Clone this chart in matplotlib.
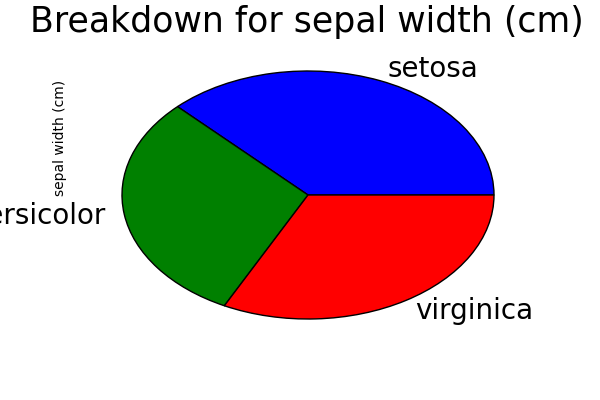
# pie of summed sepal width per iris species
import matplotlib
matplotlib.use("Agg")
import matplotlib.pyplot as plt

species = ["setosa", "versicolor", "virginica"]
sepal_width_sum = [171.4, 138.5, 148.7]
colors = ["#0000ff", "#008000", "#ff0000"]

fig = plt.figure(figsize=(6, 4), dpi=100)
ax = fig.add_axes([122 / 600, 81 / 400, 372 / 600, 248 / 400])

wedges, texts = ax.pie(sepal_width_sum, labels=species, colors=colors,
                       startangle=0, labeldistance=1.1,
                       wedgeprops=dict(edgecolor="black", linewidth=1),
                       textprops=dict(fontsize=20))
ax.set_aspect("auto")
ax.set_xlim(-1, 1)
ax.set_ylim(-1, 1)
for t in texts:
    t.set_clip_on(False)

fig.text(307 / 600, 1 - 32 / 400, "Breakdown for sepal width (cm)",
         fontsize=25, ha="center", va="baseline")
fig.text(60 / 600, 1 - 137.5 / 400, "sepal width (cm)", fontsize=10,
         rotation=90, ha="center", va="center")

fig.savefig("out.png")
